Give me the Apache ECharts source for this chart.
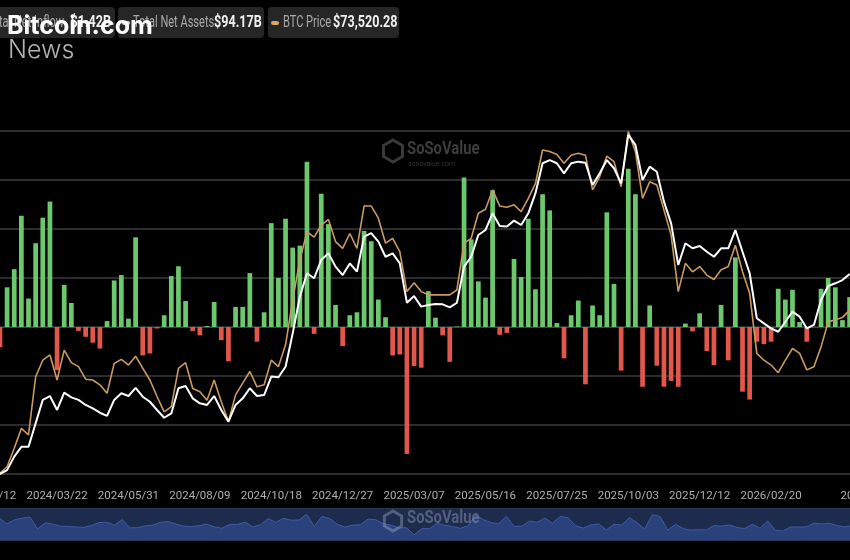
<!DOCTYPE html>
<html><head><meta charset="utf-8">
<script src="https://cdn.jsdelivr.net/npm/echarts@6/dist/echarts.min.js"></script>
<style>html,body{margin:0;padding:0;background:#000;}#c{width:850px;height:560px;}</style>
</head><body><div id="c"></div>
<script>
// Weekly categories (Friday)
const dates = [
"2024/01/12","2024/01/19","2024/01/26","2024/02/02","2024/02/09","2024/02/16","2024/02/23","2024/03/01","2024/03/08","2024/03/15",
"2024/03/22","2024/03/29","2024/04/05","2024/04/12","2024/04/19","2024/04/26","2024/05/03","2024/05/10","2024/05/17","2024/05/24",
"2024/05/31","2024/06/07","2024/06/14","2024/06/21","2024/06/28","2024/07/05","2024/07/12","2024/07/19","2024/07/26","2024/08/02",
"2024/08/09","2024/08/16","2024/08/23","2024/08/30","2024/09/06","2024/09/13","2024/09/20","2024/09/27","2024/10/04","2024/10/11",
"2024/10/18","2024/10/25","2024/11/01","2024/11/08","2024/11/15","2024/11/22","2024/11/29","2024/12/06","2024/12/13","2024/12/20",
"2024/12/27","2025/01/03","2025/01/10","2025/01/17","2025/01/24","2025/01/31","2025/02/07","2025/02/14","2025/02/21","2025/02/28",
"2025/03/07","2025/03/14","2025/03/21","2025/03/28","2025/04/04","2025/04/11","2025/04/18","2025/04/25","2025/05/02","2025/05/09",
"2025/05/16","2025/05/23","2025/05/30","2025/06/06","2025/06/13","2025/06/20","2025/06/27","2025/07/04","2025/07/11","2025/07/18",
"2025/07/25","2025/08/01","2025/08/08","2025/08/15","2025/08/22","2025/08/29","2025/09/05","2025/09/12","2025/09/19","2025/09/26",
"2025/10/03","2025/10/10","2025/10/17","2025/10/24","2025/10/31","2025/11/07","2025/11/14","2025/11/21","2025/11/28","2025/12/05",
"2025/12/12","2025/12/19","2025/12/26","2026/01/02","2026/01/09","2026/01/16","2026/01/23","2026/01/30","2026/02/06","2026/02/13",
"2026/02/20","2026/02/27","2026/03/06","2026/03/13","2026/03/20","2026/03/27","2026/04/03","2026/04/10","2026/04/17","2026/04/24",
"2026/05/01","2026/05/08","2026/05/15","2026/05/22","2026/05/29"
];

// Which category indices carry a visible tick label
const labelIndices = [0, 10, 20, 30, 40, 50, 60, 70, 80, 90, 100, 110, 124];

// Total net inflow per week, $B
const netInflow = [
null,null,-0.41,0.81,1.18,2.27,0.58,1.71,2.23,2.56,
-0.88,0.86,0.49,-0.08,-0.20,-0.32,-0.44,0.12,0.95,1.06,
0.17,1.83,-0.58,-0.54,-0.03,0.24,1.04,1.24,0.53,-0.08,
-0.17,0.02,0.51,-0.27,-0.70,0.41,0.41,1.10,-0.30,0.30,
2.12,1.00,2.21,1.62,1.66,3.37,-0.14,2.72,2.10,0.45,
-0.39,0.24,0.30,1.96,1.75,0.56,0.20,-0.58,-0.56,-2.59,
-0.80,-0.83,0.73,0.19,-0.17,-0.71,0.01,3.05,1.79,0.93,
0.60,2.79,-0.16,-0.12,1.39,1.02,2.21,0.77,2.71,2.38,
0.08,-0.64,0.24,0.54,-1.17,0.44,0.24,2.34,0.88,-0.89,
3.23,2.71,-1.22,0.44,-0.79,-1.22,-1.10,-1.22,0.07,-0.09,
0.28,-0.49,-0.78,0.45,-0.68,1.42,-1.32,-1.48,-0.30,-0.35,
-0.30,0.78,0.56,0.76,0.10,-0.30,0,0.78,1.00,0.81,
0.14,0.61
];

// Total net assets, $B
const netAssets = [
null,null,20.0,21.7,27.6,31.9,31.9,42.2,52.4,54.1,
48.0,55.6,53.5,52.4,50.2,48.7,46.8,45.4,52.4,55.3,
54.1,57.7,53.8,51.6,48.0,44.6,46.5,57.5,58.5,53.1,
50.9,50.2,54.1,48.0,42.9,50.2,53.1,57.5,54.1,54.5,
62.6,62.3,66.9,81.5,97.5,107.8,105.6,113.6,116.5,110.7,
107.0,112.1,108.5,123.8,125.3,121.6,115.0,116.5,112.1,94.9,
97.8,93.2,93.9,94.3,94.2,92.9,94.9,110.7,115.0,124.5,
126.7,134.0,128.5,128.2,130.8,128.9,134.0,142.8,155.9,157.3,
155.9,151.5,155.9,156.6,156.1,146.4,151.5,157.3,153.7,147.1,
168.3,163.9,148.6,154.4,152.2,139.1,129.6,111.4,120.9,118.7,
119.7,117.2,115.0,118.7,118.7,126.7,117.2,107.8,88.1,85.9,
83.7,82.2,86.6,91.0,88.8,83.7,85.2,96.1,102.2,103.4,
104.8,107.5
];

// BTC price, USD
const btcPrice = [
null,null,40200,41800,46400,51300,49700,64100,68200,69500,
63300,70700,67600,66600,63500,63300,62100,60000,67400,68400,
67000,69200,66200,63300,59200,55400,56700,66200,67600,61200,
60400,58300,63300,57900,53000,59600,62500,65400,61600,62100,
68200,66600,72000,83100,93000,100000,98700,101700,103100,97600,
95900,99600,95900,106400,106400,103400,97200,98400,95100,85200,
87400,85200,84400,84400,84400,84400,85600,97200,98400,104600,
105600,110400,106400,106100,106700,105000,108300,112000,120300,119900,
119200,117000,119000,119500,119000,110400,113700,118800,117400,111200,
124900,119900,108300,112400,111600,105400,99200,85200,92200,90100,
91400,89300,88200,90600,91400,96700,90100,84800,69900,68200,
67000,65100,68200,71100,69900,65800,66600,71500,77700,78200,
78800,80600
];

const legendLabels = ["Total Net Inflow", "Total Net Assets", "BTC Price"];
const legendValues = ["$1.42B", "$94.17B", "$73,520.28"];

const GREEN = '#6cc86c', RED = '#e2574c', GOLD = '#c99a62';
const labelFont = '16px Roboto', valueFont = 'bold 17px Roboto';

const chart = echarts.init(document.getElementById('c'), null, {renderer: 'canvas'});

const hex = (cx, cy, r) => {
  const pts = [];
  for (let k = 0; k < 6; k++) {
    const a = Math.PI / 3 * k - Math.PI / 2;
    pts.push([cx + r * Math.cos(a), cy + r * Math.sin(a)]);
  }
  return pts;
};

chart.setOption({
  backgroundColor: '#000',
  animation: false,
  grid: {left: -17.9, right: -24.6, top: 131, bottom: 86, containLabel: false, outerBoundsMode: 'none'},
  xAxis: {
    type: 'category', data: dates, boundaryGap: true,
    axisLine: {show: true, lineStyle: {color: '#444', width: 1}},
    axisTick: {show: false},
    axisLabel: {interval: (idx) => labelIndices.indexOf(idx) >= 0, color: '#b0b0b0', fontSize: 11.5, fontFamily: 'Roboto', margin: 16, hideOverlap: false}
  },
  yAxis: [
    {type: 'value', min: -3, max: 4, interval: 1,
     axisLabel: {show: false}, axisLine: {show: false}, axisTick: {show: false},
     splitLine: {show: true, lineStyle: {color: '#3c3c3c', width: 1.5}}},
    {type: 'value', min: 20, max: 170, show: false, splitLine: {show: false}},
    {type: 'value', min: 40000, max: 125000, show: false, splitLine: {show: false}}
  ],
  dataZoom: [{
    type: 'slider', xAxisIndex: 0, start: 0, end: 100,
    left: -40, right: -40, top: 508, height: 33,
    showDetail: false, brushSelect: false, moveHandleSize: 0, zoomLock: true,
    backgroundColor: '#18223d', borderColor: '#2a3658',
    fillerColor: 'rgba(40,60,110,0.35)',
    handleSize: 0,
    dataBackground: {lineStyle: {color: '#4a6cc0', width: 1}, areaStyle: {color: '#2b4584', opacity: 1}},
    selectedDataBackground: {lineStyle: {color: '#4a6cc0', width: 1}, areaStyle: {color: '#2b4584', opacity: 1}}
  }],
  series: [
    {name: 'Total Net Inflow', type: 'bar', data: netInflow, yAxisIndex: 0, barWidth: '66%',
     itemStyle: {color: p => (p.value >= 0 ? GREEN : RED)}, z: 2},
    {name: 'Total Net Assets', type: 'line', data: netAssets, yAxisIndex: 1, showSymbol: false,
     lineStyle: {color: '#ffffff', width: 2}, itemStyle: {color: '#fff'}, z: 4},
    {name: 'BTC Price', type: 'line', data: btcPrice, yAxisIndex: 2, showSymbol: false,
     lineStyle: {color: GOLD, width: 1.6}, itemStyle: {color: GOLD}, z: 3}
  ],
  graphic: [
    // watermark in plot
    {type: 'polygon', shape: {points: hex(393, 151, 11)}, style: {fill: 'none', stroke: '#3a3a3a', lineWidth: 3}, z: 1},
    {type: 'text', x: 407, y: 149, scaleX: 0.78, style: {text: 'SoSoValue', font: 'bold 19px Roboto', fill: '#3d3d3d', textVerticalAlign: 'middle'}, z: 1},
    {type: 'text', x: 408, y: 164, style: {text: 'sosovalue.com', font: '7px Roboto', fill: '#333', textVerticalAlign: 'middle'}, z: 1},
    // watermark in slider
    {type: 'polygon', shape: {points: hex(393, 521, 10)}, style: {fill: 'none', stroke: 'rgba(150,160,185,0.45)', lineWidth: 3}, z: 100},
    {type: 'text', x: 407, y: 518, scaleX: 0.78, style: {text: 'SoSoValue', font: 'bold 19px Roboto', fill: 'rgba(150,160,185,0.45)', textVerticalAlign: 'middle'}, z: 100},
    // legend boxes
    {type: 'rect', shape: {x: -20, y: 7, width: 135, height: 31, r: 4}, style: {fill: '#262626'}, z: 10},
    {type: 'text', x: 64, y: 23, scaleX: 0.69, style: {text: legendLabels[0], font: labelFont, fill: '#a8a8a8', textAlign: 'right', textVerticalAlign: 'middle'}, z: 11},
    {type: 'text', x: 111, y: 23, scaleX: 0.74, style: {text: legendValues[0], font: valueFont, fill: '#f0f0f0', textAlign: 'right', textVerticalAlign: 'middle'}, z: 11},
    {type: 'rect', shape: {x: 118, y: 7, width: 146, height: 31, r: 4}, style: {fill: '#262626'}, z: 10},
    {type: 'rect', shape: {x: 122, y: 21, width: 8, height: 4, r: 2}, style: {fill: '#d8d8d8'}, z: 11},
    {type: 'text', x: 133, y: 23, scaleX: 0.69, style: {text: legendLabels[1], font: labelFont, fill: '#a8a8a8', textVerticalAlign: 'middle'}, z: 11},
    {type: 'text', x: 214, y: 23, scaleX: 0.74, style: {text: legendValues[1], font: valueFont, fill: '#f0f0f0', textVerticalAlign: 'middle'}, z: 11},
    {type: 'rect', shape: {x: 268, y: 7, width: 131, height: 31, r: 4}, style: {fill: '#262626'}, z: 10},
    {type: 'rect', shape: {x: 271, y: 21, width: 8, height: 4, r: 2}, style: {fill: '#d9a85e'}, z: 11},
    {type: 'text', x: 283, y: 23, scaleX: 0.69, style: {text: legendLabels[2], font: labelFont, fill: '#a8a8a8', textVerticalAlign: 'middle'}, z: 11},
    {type: 'text', x: 333, y: 23, scaleX: 0.74, style: {text: legendValues[2], font: valueFont, fill: '#f0f0f0', textVerticalAlign: 'middle'}, z: 11},
    // Bitcoin.com News logo
    {type: 'text', x: 7, y: 26, style: {text: 'Bitcoin.com', font: 'bold 25px Inter', fill: '#ffffff', textVerticalAlign: 'middle', shadowColor: 'rgba(0,0,0,0.8)', shadowBlur: 3}, z: 20},
    {type: 'text', x: 8, y: 50, style: {text: 'News', font: '300 25px Inter', fill: '#b4b4b4', textVerticalAlign: 'middle'}, z: 20}
  ]
});
</script>
</body></html>
